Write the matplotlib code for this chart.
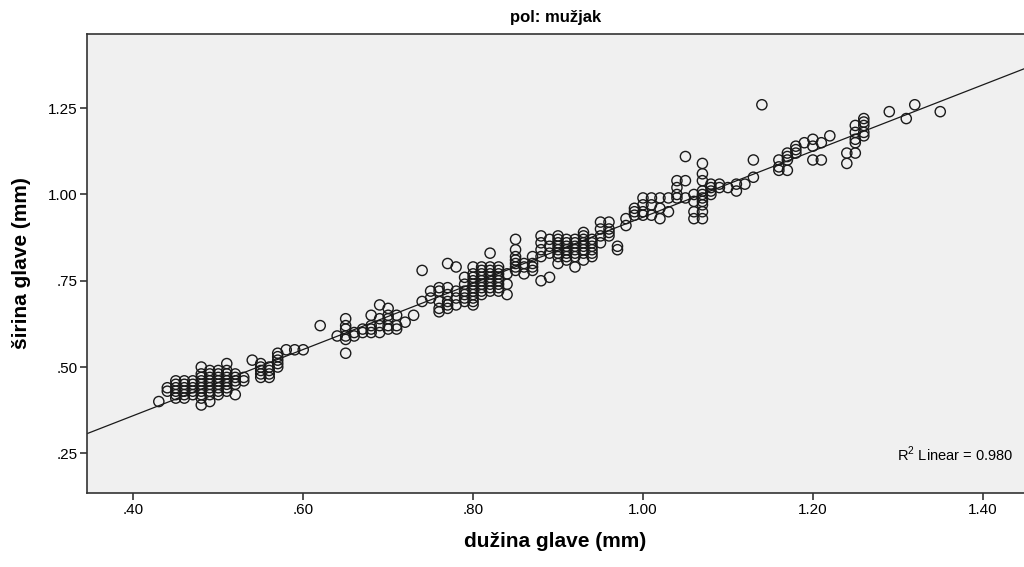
import numpy as np
import matplotlib
matplotlib.use('Agg')
import matplotlib.pyplot as plt

# head length vs head width, males only (0.01 steps)
duzina_a = [0.43, 0.44, 0.44,
            0.45, 0.45, 0.45, 0.45, 0.45, 0.45,
            0.46, 0.46, 0.46, 0.46, 0.46, 0.46,
            0.47, 0.47, 0.47, 0.47, 0.47,
            0.48, 0.48, 0.48, 0.48, 0.48, 0.48, 0.48, 0.48, 0.48, 0.48,
            0.49, 0.49, 0.49, 0.49, 0.49, 0.49, 0.49, 0.49, 0.49,
            0.50, 0.50, 0.50, 0.50, 0.50, 0.50, 0.50, 0.50,
            0.51, 0.51, 0.51, 0.51, 0.51, 0.51, 0.51, 0.51,
            0.52, 0.52, 0.52, 0.52, 0.52, 0.53, 0.53, 0.54,
            0.55, 0.55, 0.55, 0.55, 0.55, 0.56, 0.56, 0.56, 0.56,
            0.57, 0.57, 0.57, 0.57, 0.57, 0.58, 0.59, 0.60]
sirina_a = [0.40, 0.44, 0.43,
            0.46, 0.45, 0.44, 0.43, 0.42, 0.41,
            0.46, 0.45, 0.44, 0.43, 0.42, 0.41,
            0.46, 0.45, 0.44, 0.43, 0.42,
            0.50, 0.48, 0.47, 0.46, 0.45, 0.44, 0.43, 0.42, 0.41, 0.39,
            0.49, 0.48, 0.47, 0.46, 0.45, 0.44, 0.43, 0.42, 0.40,
            0.49, 0.48, 0.47, 0.46, 0.45, 0.44, 0.43, 0.42,
            0.51, 0.49, 0.48, 0.47, 0.46, 0.45, 0.44, 0.43,
            0.48, 0.47, 0.46, 0.45, 0.42, 0.46, 0.47, 0.52,
            0.51, 0.50, 0.49, 0.48, 0.47, 0.50, 0.49, 0.48, 0.47,
            0.54, 0.53, 0.52, 0.51, 0.50, 0.55, 0.55, 0.55]

duzina_b = [0.62, 0.64,
            0.65, 0.65, 0.65, 0.65, 0.65, 0.65, 0.66, 0.66, 0.67, 0.67,
            0.68, 0.68, 0.68, 0.68, 0.69, 0.69, 0.69, 0.69,
            0.70, 0.70, 0.70, 0.70, 0.70, 0.71, 0.71, 0.71, 0.72, 0.73,
            0.74, 0.74, 0.75, 0.75,
            0.76, 0.76, 0.76, 0.76, 0.76,
            0.77, 0.77, 0.77, 0.77, 0.77, 0.77,
            0.78, 0.78, 0.78, 0.78,
            0.79, 0.79, 0.79, 0.79, 0.79, 0.79]
sirina_b = [0.62, 0.59,
            0.64, 0.62, 0.61, 0.59, 0.58, 0.54, 0.60, 0.59, 0.61, 0.60,
            0.65, 0.62, 0.61, 0.60, 0.68, 0.64, 0.62, 0.60,
            0.67, 0.65, 0.64, 0.62, 0.61, 0.65, 0.62, 0.61, 0.63, 0.65,
            0.78, 0.69, 0.72, 0.70,
            0.73, 0.72, 0.69, 0.67, 0.66,
            0.80, 0.73, 0.71, 0.69, 0.68, 0.67,
            0.79, 0.72, 0.70, 0.68,
            0.76, 0.74, 0.72, 0.71, 0.70, 0.69]

duzina_c = [0.80, 0.80, 0.80, 0.80, 0.80, 0.80, 0.80, 0.80, 0.80, 0.80, 0.80,
            0.81, 0.81, 0.81, 0.81, 0.81, 0.81, 0.81, 0.81, 0.81,
            0.82, 0.82, 0.82, 0.82, 0.82, 0.82, 0.82, 0.82, 0.82,
            0.83, 0.83, 0.83, 0.83, 0.83, 0.83, 0.83, 0.83,
            0.84, 0.84, 0.84,
            0.85, 0.85, 0.85, 0.85, 0.85, 0.85, 0.85,
            0.86, 0.86, 0.86, 0.87, 0.87, 0.87, 0.87,
            0.88, 0.88, 0.88, 0.88, 0.88, 0.89, 0.89, 0.89, 0.89]
sirina_c = [0.79, 0.77, 0.76, 0.75, 0.74, 0.73, 0.72, 0.71, 0.70, 0.69, 0.68,
            0.79, 0.78, 0.77, 0.76, 0.75, 0.74, 0.73, 0.72, 0.71,
            0.83, 0.79, 0.78, 0.77, 0.76, 0.75, 0.74, 0.73, 0.72,
            0.79, 0.78, 0.77, 0.76, 0.75, 0.74, 0.73, 0.72,
            0.71, 0.74, 0.77,
            0.87, 0.84, 0.82, 0.81, 0.80, 0.79, 0.78,
            0.80, 0.79, 0.77, 0.82, 0.80, 0.79, 0.78,
            0.88, 0.86, 0.84, 0.82, 0.75, 0.87, 0.85, 0.83, 0.76]

duzina_d = [0.90, 0.90, 0.90, 0.90, 0.90, 0.90, 0.90, 0.90,
            0.91, 0.91, 0.91, 0.91, 0.91, 0.91, 0.91,
            0.92, 0.92, 0.92, 0.92, 0.92, 0.92, 0.92,
            0.93, 0.93, 0.93, 0.93, 0.93, 0.93, 0.93, 0.93,
            0.94, 0.94, 0.94, 0.94, 0.94, 0.94,
            0.95, 0.95, 0.95, 0.95, 0.96, 0.96, 0.96, 0.96,
            0.97, 0.97, 0.98, 0.98, 0.99, 0.99, 0.99,
            1.00, 1.00, 1.00, 1.00, 1.01, 1.01, 1.01, 1.02, 1.02, 1.02,
            1.03, 1.03, 1.04, 1.04, 1.04, 1.04, 1.05, 1.05, 1.05]
sirina_d = [0.88, 0.87, 0.86, 0.85, 0.84, 0.83, 0.82, 0.80,
            0.87, 0.86, 0.85, 0.84, 0.83, 0.82, 0.81,
            0.87, 0.86, 0.85, 0.84, 0.83, 0.82, 0.79,
            0.89, 0.88, 0.87, 0.86, 0.85, 0.84, 0.83, 0.81,
            0.87, 0.86, 0.85, 0.84, 0.83, 0.82,
            0.92, 0.90, 0.88, 0.86, 0.92, 0.90, 0.89, 0.88,
            0.85, 0.84, 0.91, 0.93, 0.95, 0.96, 0.94,
            0.99, 0.97, 0.95, 0.94, 0.99, 0.97, 0.94, 0.99, 0.96, 0.93,
            0.99, 0.95, 1.04, 1.02, 1.00, 0.99, 1.11, 1.04, 0.99]

duzina_e = [1.06, 1.06, 1.06, 1.06,
            1.07, 1.07, 1.07, 1.07, 1.07, 1.07, 1.07, 1.07, 1.07, 1.07,
            1.08, 1.08, 1.08, 1.08, 1.09, 1.09, 1.10, 1.11, 1.11, 1.12,
            1.13, 1.13, 1.14, 1.16, 1.16, 1.16,
            1.17, 1.17, 1.17, 1.17, 1.18, 1.18, 1.18, 1.19,
            1.20, 1.20, 1.20, 1.21, 1.21, 1.22, 1.24, 1.24,
            1.25, 1.25, 1.25, 1.25, 1.25,
            1.26, 1.26, 1.26, 1.26, 1.26, 1.29, 1.31, 1.32, 1.35]
sirina_e = [1.00, 0.98, 0.95, 0.93,
            1.09, 1.06, 1.04, 1.01, 1.00, 0.99, 0.98, 0.97, 0.95, 0.93,
            1.03, 1.02, 1.01, 1.00, 1.03, 1.02, 1.02, 1.01, 1.03, 1.03,
            1.10, 1.05, 1.26, 1.10, 1.08, 1.07,
            1.12, 1.11, 1.10, 1.07, 1.14, 1.13, 1.12, 1.15,
            1.16, 1.14, 1.10, 1.15, 1.10, 1.17, 1.12, 1.09,
            1.20, 1.18, 1.16, 1.15, 1.12,
            1.22, 1.21, 1.20, 1.18, 1.17, 1.24, 1.22, 1.26, 1.24]

x_ticks = [0.40, 0.60, 0.80, 1.00, 1.20, 1.40]
x_labels = ['.40', '.60', '.80', '1.00', '1.20', '1.40']
y_ticks = [0.25, 0.50, 0.75, 1.00, 1.25]
y_labels = ['.25', '.50', '.75', '1.00', '1.25']
r2_text = 'R$^2$ Linear = 0.980'

x = np.array(duzina_a + duzina_b + duzina_c + duzina_d + duzina_e)
y = np.array(sirina_a + sirina_b + sirina_c + sirina_d + sirina_e)

plt.rcParams['font.family'] = ['Liberation Sans', 'DejaVu Sans']
plt.rcParams['mathtext.fontset'] = 'custom'
plt.rcParams['mathtext.rm'] = 'Liberation Sans'

fig = plt.figure(figsize=(10.24, 5.67), dpi=100)
ax = fig.add_axes([0.085, 0.1305, 0.915, 0.8095])
ax.set_facecolor('#f0f0f0')

ax.set_xlim(0.3455, 1.4486)
ax.set_ylim(0.135, 1.465)

# linear fit over the full width
k, n = np.polyfit(x, y, 1)
xs = np.array(ax.get_xlim())
ax.plot(xs, k * xs + n, color='#1a1a1a', lw=0.9, zorder=2)

ax.scatter(x, y, s=54, facecolors='none', edgecolors='#1a1a1a', linewidths=1.0, zorder=3)

ax.set_xticks(x_ticks)
ax.set_xticklabels(x_labels)
ax.set_yticks(y_ticks)
ax.set_yticklabels(y_labels)
ax.tick_params(direction='out', length=5, width=1.2, color='#333333', labelsize=11, pad=2)

for side in ['left', 'bottom', 'top']:
    ax.spines[side].set_color('#333333')
    ax.spines[side].set_linewidth(1.2)
ax.spines['right'].set_visible(False)

ax.set_title('pol: mužjak', fontsize=12, fontweight='bold', pad=9)
ax.set_xlabel('dužina glave (mm)', fontsize=15, fontweight='bold', labelpad=11)
ax.set_ylabel('širina glave (mm)', fontsize=15, fontweight='bold', labelpad=12)

ax.text(0.9885, 0.085, r2_text, transform=ax.transAxes, ha='right', va='center', fontsize=10.5)

plt.savefig('out.png', dpi=100)
